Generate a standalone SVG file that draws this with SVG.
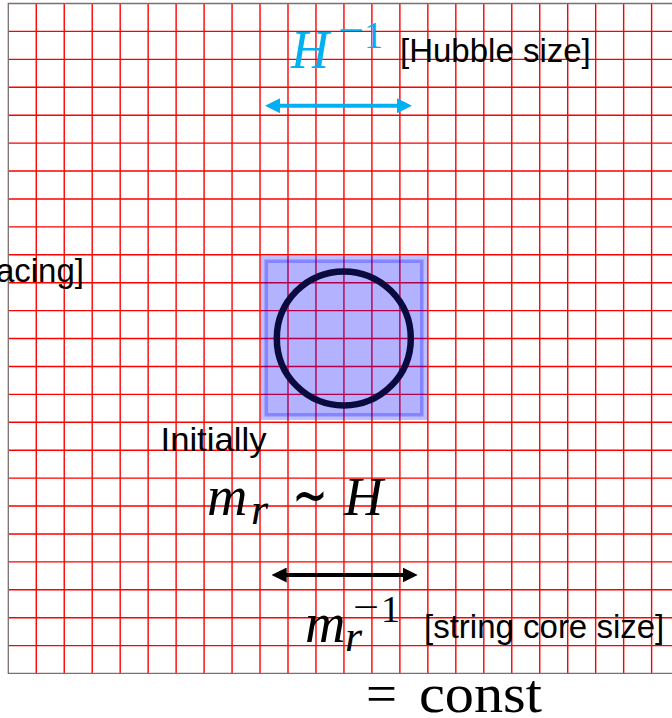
<svg xmlns="http://www.w3.org/2000/svg" width="672" height="718" viewBox="0 0 672 718">
<style>
.grid{stroke:#ff0000;stroke-width:1.4;fill:none}
.border{stroke:#7a6f6f;stroke-width:1.3;fill:none}
.lbl{font-family:"Liberation Sans",Arial,sans-serif;font-size:33px;fill:#000}
.math{font-family:"Liberation Serif","Times New Roman",serif;font-style:italic}
.up{font-family:"Liberation Serif","Times New Roman",serif;font-style:normal}
</style>
<defs>
<marker id="ahBlue" markerUnits="userSpaceOnUse" markerWidth="15" markerHeight="15" refX="5" refY="7.5" orient="auto-start-reverse"><path d="M0,0 L15,7.5 L0,15 z" fill="#00B0F0"/></marker>
<marker id="ahBlack" markerUnits="userSpaceOnUse" markerWidth="15" markerHeight="15" refX="5" refY="7.5" orient="auto-start-reverse"><path d="M0,0 L15,7.5 L0,15 z" fill="#000"/></marker>
</defs>
<rect width="672" height="718" fill="#fff"/>
<g id="grid">
<path class="grid" d="M36.27,3.5V673.3M64.24,3.5V673.3M92.21,3.5V673.3M120.18,3.5V673.3M148.15,3.5V673.3M176.12,3.5V673.3M204.09,3.5V673.3M232.06,3.5V673.3M260.03,3.5V673.3M288,3.5V673.3M315.97,3.5V673.3M343.94,3.5V673.3M371.91,3.5V673.3M399.88,3.5V673.3M427.85,3.5V673.3M455.82,3.5V673.3M483.79,3.5V673.3M511.76,3.5V673.3M539.73,3.5V673.3M567.7,3.5V673.3M595.67,3.5V673.3M623.64,3.5V673.3M651.61,3.5V673.3"/>
<path class="grid" d="M8.3,31.42H672M8.3,59.34H672M8.3,87.26H672M8.3,115.18H672M8.3,143.1H672M8.3,171.02H672M8.3,198.94H672M8.3,226.86H672M8.3,254.78H672M8.3,282.7H672M8.3,310.62H672M8.3,338.54H672M8.3,366.46H672M8.3,394.38H672M8.3,422.3H672M8.3,450.22H672M8.3,478.14H672M8.3,506.06H672M8.3,533.98H672M8.3,561.9H672M8.3,589.82H672M8.3,617.74H672M8.3,645.66H672"/>
<path class="border" d="M672,3.5H8.3V673.3H672"/>
</g>
<g id="core-square">
<rect x="264.5" y="259.5" width="159" height="157" fill="#0000ff" fill-opacity="0.3" stroke="#0000ff" stroke-opacity="0.25" stroke-width="7"/>
</g>
<g id="string-circle">
<circle cx="343.8" cy="338.4" r="67" fill="none" stroke="#0a0a3f" stroke-width="6.5"/>
</g>
<g id="connectors">
<line x1="275" y1="105.7" x2="402" y2="105.7" stroke="#00B0F0" stroke-width="4" marker-start="url(#ahBlue)" marker-end="url(#ahBlue)"/>
<line x1="281.7" y1="575" x2="407.7" y2="575" stroke="#000" stroke-width="4" marker-start="url(#ahBlack)" marker-end="url(#ahBlack)"/>
</g>
<g id="hubble-label">
<text class="math" x="291" y="68.3" font-size="54" fill="#00B0F0" textLength="38" lengthAdjust="spacingAndGlyphs">H</text>
<text class="up" x="338" y="42.5" font-size="38" fill="#00B0F0" textLength="26" lengthAdjust="spacingAndGlyphs">−</text>
<text class="up" x="364" y="48.3" font-size="38" fill="#00B0F0">1</text>
<text class="lbl" x="400" y="61.7">[Hubble size]</text>
</g>
<g id="spacing-label">
<text class="lbl" x="84" y="281.7" text-anchor="end">acing]</text>
</g>
<g id="initial-label">
<text class="lbl" x="160.5" y="450.7" textLength="106" lengthAdjust="spacingAndGlyphs">Initially</text>
<text class="math" x="207" y="515" font-size="56">m</text>
<text class="math" x="251" y="524" font-size="44">r</text>
<text class="up" x="292" y="516" font-size="62" textLength="36" lengthAdjust="spacingAndGlyphs">∼</text>
<text class="math" x="344" y="515" font-size="54">H</text>
</g>
<g id="core-label">
<text class="math" x="305" y="641.7" font-size="56">m</text>
<text class="math" x="345" y="651" font-size="44">r</text>
<text class="up" x="353" y="620" font-size="38" textLength="26" lengthAdjust="spacingAndGlyphs">−</text>
<text class="up" x="381" y="622.3" font-size="38">1</text>
<text class="lbl" x="424" y="638.3">[string core size]</text>
<text class="up" font-size="55" y="712"><tspan x="366">=</tspan><tspan x="419" textLength="123" lengthAdjust="spacingAndGlyphs">const</tspan></text>
</g>
</svg>
